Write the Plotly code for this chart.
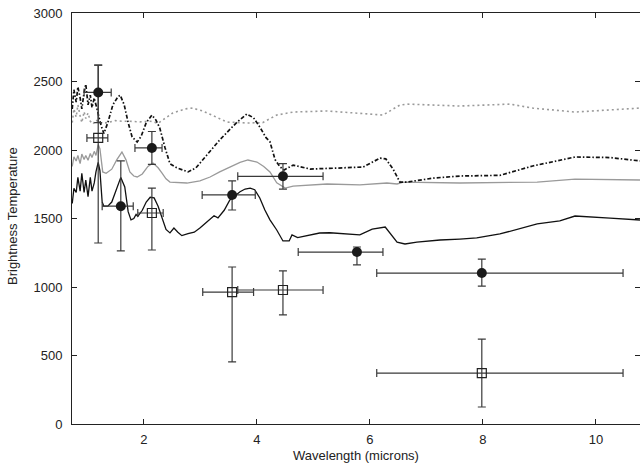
import plotly.graph_objects as go

# ---- model curves (wavelength in microns, brightness temperature in K) ----
m1_wl = [0.73, 0.76, 0.80, 0.83, 0.87, 0.90, 0.94, 0.97, 1.01, 1.05, 1.08, 1.12, 1.15, 1.19, 1.22,
         1.26, 1.29, 1.36, 1.43, 1.50, 1.59, 1.66, 1.72, 1.77, 1.82, 1.86, 1.89, 1.97, 2.04, 2.11,
         2.18, 2.25, 2.32, 2.39, 2.46, 2.53, 2.60, 2.67, 2.78, 2.89, 2.99, 3.10, 3.17, 3.24, 3.31,
         3.42, 3.52, 3.63, 3.70, 3.79, 3.88, 3.96, 4.05, 4.14, 4.23, 4.35, 4.46, 4.57, 4.62, 4.72,
         4.84, 5.11, 5.29, 5.55, 5.82, 6.04, 6.27, 6.48, 6.62, 6.83, 7.24, 7.59, 7.89, 8.30, 8.96,
         9.36, 9.63, 10.25, 10.78]
m1_t = [1610, 1720, 1690, 1800, 1700, 1830, 1690, 1780, 1660, 1800, 1700, 1760, 1840, 1910, 1850,
        1620, 1590, 1590, 1620, 1700, 1800, 1730, 1550, 1490, 1500, 1530, 1515, 1560, 1620, 1655,
        1650, 1590, 1500, 1420, 1395, 1430, 1400, 1375, 1390, 1400, 1430, 1470, 1490, 1520, 1505,
        1560, 1635, 1670, 1695, 1715, 1722, 1710, 1650, 1562, 1490, 1416, 1336, 1336, 1380, 1360,
        1370, 1394, 1396, 1388, 1380, 1423, 1438, 1328, 1314, 1328, 1343, 1350, 1358, 1387, 1460,
        1482, 1518, 1503, 1489]

m2_wl = [0.73, 0.76, 0.80, 0.83, 0.87, 0.90, 0.94, 0.97, 1.01, 1.05, 1.08, 1.12, 1.15, 1.19, 1.22,
         1.27, 1.33, 1.43, 1.52, 1.61, 1.68, 1.75, 1.82, 1.88, 1.97, 2.07, 2.16, 2.25, 2.32, 2.39,
         2.46, 2.76, 2.99, 3.17, 3.34, 3.52, 3.70, 3.84, 4.00, 4.12, 4.23, 4.35, 4.50, 4.64, 5.24,
         5.82, 6.30, 6.48, 6.59, 7.59, 8.07, 8.96, 9.63, 10.78]
m2_t = [1880, 1950, 1920, 1960, 1900, 1970, 1930, 1960, 1925, 1975, 1945, 1990, 1960, 2040, 2010,
        1840, 1830, 1860, 1930, 1985, 1930, 1840, 1810, 1803, 1825, 1880, 1905, 1870, 1832, 1790,
        1766, 1759, 1775, 1803, 1840, 1876, 1910, 1927, 1912, 1880, 1840, 1760, 1722, 1737, 1752,
        1745, 1759, 1752, 1766, 1759, 1760, 1766, 1788, 1781]

m3_wl = [0.73, 0.76, 0.80, 0.83, 0.87, 0.90, 0.94, 0.97, 1.01, 1.05, 1.08, 1.12, 1.15, 1.19, 1.24,
         1.29, 1.36, 1.45, 1.54, 1.58, 1.65, 1.72, 1.79, 1.88, 1.95, 2.04, 2.14, 2.21, 2.28, 2.37,
         2.46, 2.58, 2.78, 2.92, 3.04, 3.20, 3.34, 3.52, 3.65, 3.82, 3.94, 4.05, 4.16, 4.23, 4.32,
         4.41, 4.48, 4.64, 4.94, 5.42, 5.88, 6.18, 6.28, 6.41, 6.53, 6.66, 7.12, 7.59, 8.30, 8.88,
         9.63, 10.25, 10.78]
m3_t = [2300, 2440, 2350, 2460, 2380, 2300, 2420, 2480, 2330, 2400, 2310, 2380, 2330, 2260, 2180,
        2120, 2200, 2330, 2390, 2400, 2330, 2200, 2095, 2058, 2100, 2200, 2255, 2220, 2160, 2020,
        1900, 1870, 1840, 1870, 1927, 2000, 2073, 2150, 2204, 2263, 2235, 2168, 2090, 2060, 1930,
        1876, 1854, 1890, 1861, 1868, 1876, 1941, 1935, 1860, 1766, 1766, 1795, 1810, 1815, 1883,
        1949, 1945, 1920]

m4_wl = [0.73, 0.76, 0.80, 0.83, 0.87, 0.90, 0.94, 0.97, 1.01, 1.05, 1.10, 1.15, 1.22, 1.36, 1.49,
         1.61, 1.75, 1.93, 2.11, 2.25, 2.37, 2.51, 2.73, 2.86, 3.04, 3.20, 3.47, 3.82, 4.10, 4.35,
         4.64, 5.24, 5.82, 6.23, 6.53, 6.66, 7.59, 8.48, 8.88, 9.63, 10.78]
m4_t = [2200, 2300, 2240, 2330, 2250, 2200, 2280, 2230, 2270, 2210, 2190, 2220, 2195, 2200, 2215,
        2210, 2210, 2205, 2210, 2195, 2230, 2270, 2300, 2306, 2285, 2255, 2204, 2197, 2200, 2255,
        2277, 2285, 2270, 2255, 2328, 2335, 2321, 2335, 2306, 2277, 2306]

# ---- observed photometry: filled circles ----
c_wl = [1.19, 1.59, 2.14, 3.56, 4.46, 5.77, 7.98]
c_t = [2420, 1590, 2015, 1672, 1808, 1255, 1102]
c_t_plus = [200, 330, 120, 102, 92, 37, 102]
c_t_minus = [220, 327, 120, 110, 93, 94, 95]
c_wl_plus = [0.23, 0.22, 0.18, 0.41, 0.71, 0.46, 2.50]
c_wl_minus = [0.25, 0.33, 0.30, 0.53, 0.80, 1.04, 1.86]

# ---- observed photometry: open squares ----
s_wl = [1.19, 2.14, 3.56, 4.46, 7.98]
s_t = [2088, 1540, 963, 978, 372]
s_t_plus = [532, 182, 183, 139, 248]
s_t_minus = [767, 270, 510, 182, 248]
s_wl_plus = [0.17, 0.20, 0.38, 0.71, 2.50]
s_wl_minus = [0.20, 0.25, 0.52, 0.80, 1.86]

x_ticks = [2, 4, 6, 8, 10]
y_ticks = [0, 500, 1000, 1500, 2000, 2500, 3000]

FONT = "Liberation Sans, Arial, sans-serif"
TXT = "#222222"
ERR = "#3a3a3a"
W, H = 640, 464
ML, MR, MT, MB = 72, 0, 13, 40
PW, PH = W - ML - MR, H - MT - MB

fig = go.Figure()
fig.add_trace(go.Scatter(x=m4_wl, y=m4_t, mode="lines",
                         line=dict(color="#9a9a9a", width=1.6, dash="2px,3px"), showlegend=False))
fig.add_trace(go.Scatter(x=m2_wl, y=m2_t, mode="lines",
                         line=dict(color="#9a9a9a", width=1.3), showlegend=False))
fig.add_trace(go.Scatter(x=m3_wl, y=m3_t, mode="lines",
                         line=dict(color="#111111", width=1.7, dash="4px,2px,1.5px,2px"),
                         showlegend=False))
fig.add_trace(go.Scatter(x=m1_wl, y=m1_t, mode="lines",
                         line=dict(color="#111111", width=1.3), showlegend=False))

fig.add_trace(go.Scatter(
    x=s_wl, y=s_t, mode="markers",
    marker=dict(symbol="square-open", size=9, color="#222222", line=dict(width=1.2)),
    error_y=dict(type="data", symmetric=False, array=s_t_plus, arrayminus=s_t_minus,
                 color=ERR, thickness=1.2, width=4),
    error_x=dict(type="data", symmetric=False, array=s_wl_plus, arrayminus=s_wl_minus,
                 color=ERR, thickness=1.2, width=4),
    showlegend=False))
fig.add_trace(go.Scatter(
    x=c_wl, y=c_t, mode="markers",
    marker=dict(symbol="circle", size=10, color="#1a1a1a"),
    error_y=dict(type="data", symmetric=False, array=c_t_plus, arrayminus=c_t_minus,
                 color=ERR, thickness=1.2, width=4),
    error_x=dict(type="data", symmetric=False, array=c_wl_plus, arrayminus=c_wl_minus,
                 color=ERR, thickness=1.2, width=4),
    showlegend=False))

axis_common = dict(showgrid=False, zeroline=False, showline=True, linecolor="#222222",
                   linewidth=1, mirror="ticks", ticks="inside", ticklen=5, tickwidth=1,
                   tickcolor="#222222", automargin=False,
                   tickfont=dict(family=FONT, size=13, color=TXT))

fig.update_xaxes(range=[0.726, 10.78], tickvals=x_ticks, ticktext=[str(v) for v in x_ticks],
                 ticklabelstandoff=3, **axis_common)
fig.update_yaxes(range=[0, 3000], tickvals=y_ticks, ticktext=[str(v) for v in y_ticks],
                 ticklabelstandoff=6, **axis_common)

fig.add_annotation(text="Wavelength (microns)", xref="paper", yref="paper",
                   x=(356 - ML) / PW, y=-(455 - (MT + PH)) / PH, showarrow=False,
                   xanchor="center", yanchor="middle",
                   font=dict(family=FONT, size=13, color=TXT))
fig.add_annotation(text="Brightness Temperature", xref="paper", yref="paper",
                   x=(13 - ML) / PW, y=((MT + PH) - 216) / PH, showarrow=False, textangle=-90,
                   xanchor="center", yanchor="middle",
                   font=dict(family=FONT, size=13, color=TXT))

fig.update_layout(width=W, height=H, margin=dict(l=ML, r=MR, t=MT, b=MB),
                  plot_bgcolor="white", paper_bgcolor="white", hovermode=False)

fig.write_html("out.html", config={"displayModeBar": False, "staticPlot": True},
               post_script="document.body.style.margin='0';document.body.style.overflow='hidden';")
